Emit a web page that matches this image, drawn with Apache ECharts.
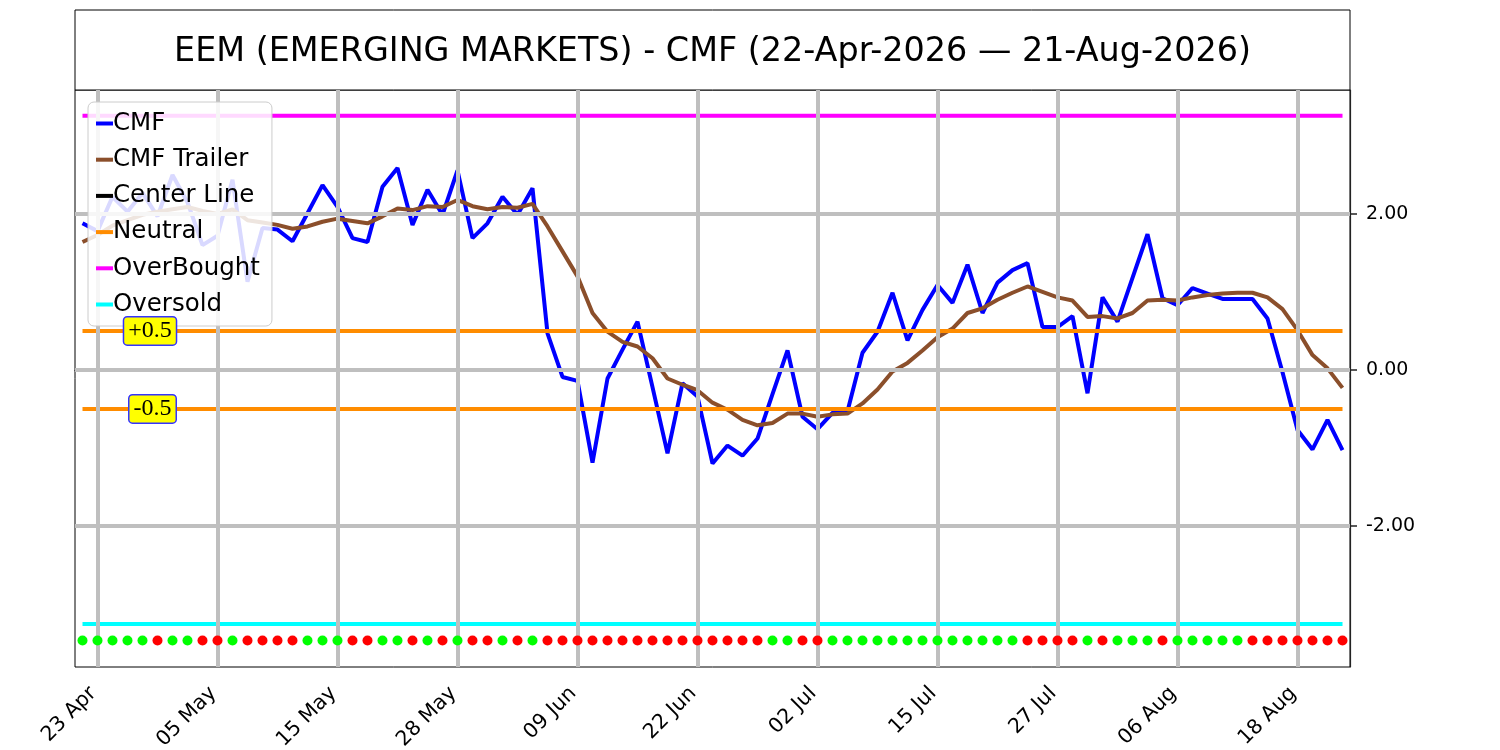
<!DOCTYPE html>
<html>
<head>
<meta charset="utf-8">
<script src="https://cdn.jsdelivr.net/npm/echarts@6/dist/echarts.min.js"></script>
<style>
  html, body { margin: 0; padding: 0; background: #fff; }
  #chart { width: 1500px; height: 750px; }
</style>
</head>
<body>
<div id="chart"></div>
<script>
// trading days, 22 Apr 2026 .. 21 Aug 2026
var dates = [
  "22 Apr", "23 Apr", "24 Apr", "27 Apr", "28 Apr", "29 Apr", "30 Apr",
  "01 May", "04 May", "05 May", "06 May", "07 May", "08 May", "11 May", "12 May",
  "13 May", "14 May", "15 May", "18 May", "19 May", "20 May", "21 May", "22 May",
  "26 May", "27 May", "28 May", "29 May",
  "01 Jun", "02 Jun", "03 Jun", "04 Jun", "05 Jun", "08 Jun", "09 Jun", "10 Jun",
  "11 Jun", "12 Jun", "15 Jun", "16 Jun", "17 Jun", "18 Jun", "22 Jun", "23 Jun",
  "24 Jun", "25 Jun", "26 Jun", "29 Jun", "30 Jun",
  "01 Jul", "02 Jul", "06 Jul", "07 Jul", "08 Jul", "09 Jul", "10 Jul", "13 Jul",
  "14 Jul", "15 Jul", "16 Jul", "17 Jul", "20 Jul", "21 Jul", "22 Jul", "23 Jul",
  "24 Jul", "27 Jul", "28 Jul", "29 Jul", "30 Jul", "31 Jul",
  "03 Aug", "04 Aug", "05 Aug", "06 Aug", "07 Aug", "10 Aug", "11 Aug", "12 Aug",
  "13 Aug", "14 Aug", "17 Aug", "18 Aug", "19 Aug", "20 Aug", "21 Aug"
];

var cmf = [
  1.88, 1.78, 2.22, 2.03, 2.27, 1.97, 2.50, 2.15, 1.60, 1.72,
  2.44, 1.13, 1.82, 1.80, 1.65, 2.01, 2.37, 2.09, 1.69, 1.64,
  2.35, 2.59, 1.86, 2.31, 1.99, 2.56, 1.69, 1.88, 2.22, 1.99,
  2.33, 0.47, -0.09, -0.14, -1.19, -0.11, 0.26, 0.62, -0.22, -1.07,
  -0.17, -0.34, -1.20, -0.97, -1.10, -0.88, -0.31, 0.25, -0.60, -0.76,
  -0.55, -0.53, 0.22, 0.49, 0.99, 0.38, 0.77, 1.09, 0.86, 1.35,
  0.73, 1.12, 1.28, 1.37, 0.55, 0.55, 0.69, -0.30, 0.93, 0.62,
  1.18, 1.74, 0.92, 0.83, 1.05, 0.98, 0.91, 0.91, 0.91, 0.66,
  -0.03, -0.77, -1.02, -0.64, -1.03
];

var cmfTrailer = [
  1.64, 1.73, 1.85, 1.92, 1.99, 2.03, 2.06, 2.09, 2.04, 2.00,
  2.06, 1.92, 1.89, 1.86, 1.81, 1.84, 1.90, 1.94, 1.91, 1.88,
  1.97, 2.07, 2.05, 2.10, 2.09, 2.18, 2.10, 2.06, 2.09, 2.08,
  2.13, 1.84, 1.52, 1.20, 0.73, 0.49, 0.36, 0.30, 0.15, -0.11,
  -0.19, -0.26, -0.42, -0.51, -0.64, -0.71, -0.68, -0.56, -0.56, -0.60,
  -0.57, -0.56, -0.43, -0.25, -0.02, 0.09, 0.25, 0.42, 0.53, 0.73,
  0.79, 0.90, 0.99, 1.07, 1.00, 0.93, 0.89, 0.68, 0.69, 0.66,
  0.73, 0.89, 0.90, 0.89, 0.93, 0.96, 0.98, 0.99, 0.99, 0.93,
  0.78, 0.51, 0.19, 0.02, -0.23
];

// g = green dot, r = red dot
var signal = (
  "ggggg rggrr grrrr gggrr ggrgr grrgr grrrr rrrrr rrr" +
  "rrrggrrgggggggggggg" + "g" + "rrrrgrgggrgggggrrrrrr"
).replace(/ /g, "").split("");

var centerLevel = 0;
var neutralLevels = [0.5, -0.5];
var neutralTags = ["+0.5", "-0.5"];
var neutralTagAt = ["28 Apr", "29 Apr"];
var neutralTagShift = [7.5, -5];
var overBought = 3.26;
var overSold = -3.26;
var dotLevel = -3.47;
var yTicks = [-2, 0, 2];
var yMin = -3.81;
var yMax = 3.59;

var labelEvery = 8;
var labelStart = 1;

function flat(v) {
  return dates.map(function () { return v; });
}

var tickDates = dates.filter(function (d, i) { return i % labelEvery === labelStart; });

var chart = echarts.init(document.getElementById("chart"));

var font = "DejaVu Sans";

function levelSeries(name, value, color) {
  return {
    name: name,
    type: "line",
    data: flat(value),
    z: 4,
    showSymbol: false,
    lineStyle: { color: color, width: 4 },
    itemStyle: { color: color }
  };
}

var option = {
  animation: false,
  textStyle: { fontFamily: font },
  grid: {
    left: 75, right: 150, top: 90, bottom: 83,
    outerBoundsMode: "none",
    containLabel: false,
    show: true, borderColor: "#000", borderWidth: 1, backgroundColor: "#fff"
  },
  graphic: [
    {
      type: "rect",
      shape: { x: 75, y: 10, width: 1275, height: 80 },
      style: { fill: "#fff", stroke: "#000", lineWidth: 1 }
    },
    {
      type: "text",
      style: {
        text: "EEM (EMERGING MARKETS) - CMF (22-Apr-2026 \u2014 21-Aug-2026)",
        x: 712.5, y: 52,
        textAlign: "center", textVerticalAlign: "middle",
        fontSize: 33.4, fontFamily: font, fill: "#000"
      }
    }
  ],
  legend: {
    left: 88, top: 102,
    orient: "vertical",
    icon: "rect",
    itemWidth: 17, itemHeight: 4,
    itemGap: 11.2,
    padding: [9, 12, 9, 8],
    backgroundColor: "rgba(255,255,255,0.85)",
    borderColor: "#cccccc", borderWidth: 1, borderRadius: 6,
    textStyle: { fontSize: 24.5, color: "#000", fontFamily: font, lineHeight: 25, padding: [0, 0, 0, -5] },
    data: ["CMF", "CMF Trailer", "Center Line", "Neutral", "OverBought", "Oversold"],
    z: 10
  },
  xAxis: {
    type: "category",
    data: dates,
    boundaryGap: true,
    axisLine: { show: true, lineStyle: { color: "#000", width: 1 } },
    axisTick: {
      show: true, alignWithLabel: true, length: 7,
      interval: function (i) { return i % labelEvery === labelStart; },
      lineStyle: { color: "#000", width: 1.5 }
    },
    axisLabel: {
      interval: function (i) { return i % labelEvery === labelStart; },
      rotate: 45, fontSize: 20.5, color: "#000", margin: 19, fontFamily: font,
      padding: [0, 6, 0, 0]
    },
    splitLine: { show: false }
  },
  yAxis: {
    type: "value",
    position: "right",
    min: yMin, max: yMax,
    axisLine: { show: true, lineStyle: { color: "#222", width: 1.2 } },
    axisTick: { show: true, length: 7, customValues: yTicks, lineStyle: { color: "#222", width: 1.5 } },
    axisLabel: {
      customValues: yTicks, fontSize: 19, color: "#000", margin: 16, fontFamily: font,
      formatter: function (v) { return v.toFixed(2); }
    },
    splitLine: { show: false }
  },
  series: [
    {
      name: "grid",
      type: "line",
      data: cmf,
      z: 1,
      silent: true,
      showSymbol: false,
      lineStyle: { opacity: 0 },
      markLine: {
        silent: true,
        symbol: ["none", "none"],
        label: { show: false },
        lineStyle: { color: "#bfbfbf", width: 4, type: "solid" },
        data: tickDates.map(function (d) { return { xAxis: d }; })
          .concat(yTicks.map(function (v) { return { yAxis: v }; }))
      }
    },
    {
      name: "CMF",
      type: "line",
      data: cmf,
      z: 3,
      showSymbol: false,
      lineStyle: { color: "#0000ff", width: 4 },
      itemStyle: { color: "#0000ff" }
    },
    {
      name: "CMF Trailer",
      type: "line",
      data: cmfTrailer,
      z: 3,
      showSymbol: false,
      lineStyle: { color: "#8b4f2b", width: 4 },
      itemStyle: { color: "#8b4f2b" }
    },
    levelSeries("Center Line", centerLevel, "#000000"),
    levelSeries("Neutral", neutralLevels[0], "#ff8c00"),
    levelSeries("Neutral", neutralLevels[1], "#ff8c00"),
    levelSeries("OverBought", overBought, "#ff00ff"),
    levelSeries("Oversold", overSold, "#00ffff"),
    {
      name: "signal",
      type: "scatter",
      data: flat(dotLevel),
      z: 5,
      symbol: "circle",
      symbolSize: 10,
      itemStyle: {
        opacity: 1,
        color: function (p) { return signal[p.dataIndex] === "g" ? "#00ff00" : "#ff0000"; }
      }
    },
    {
      name: "tags",
      type: "scatter",
      z: 12,
      silent: true,
      symbolSize: 1,
      itemStyle: { color: "rgba(0,0,0,0)", opacity: 1 },
      label: {
        show: true,
        position: "inside",
        fontFamily: "Liberation Serif",
        fontSize: 24,
        lineHeight: 24,
        color: "#000",
        opacity: 1,
        backgroundColor: "#ffff00",
        borderColor: "#3333ff",
        borderWidth: 1.5,
        borderRadius: 3,
        padding: [2, 4, 1, 4],
        formatter: function (p) { return neutralTags[p.dataIndex]; }
      },
      data: neutralLevels.map(function (v, k) {
        return {
          value: [neutralTagAt[k], v],
          label: { offset: [neutralTagShift[k], 0] }
        };
      })
    }
  ]
};

chart.setOption(option);
</script>
</body>
</html>
